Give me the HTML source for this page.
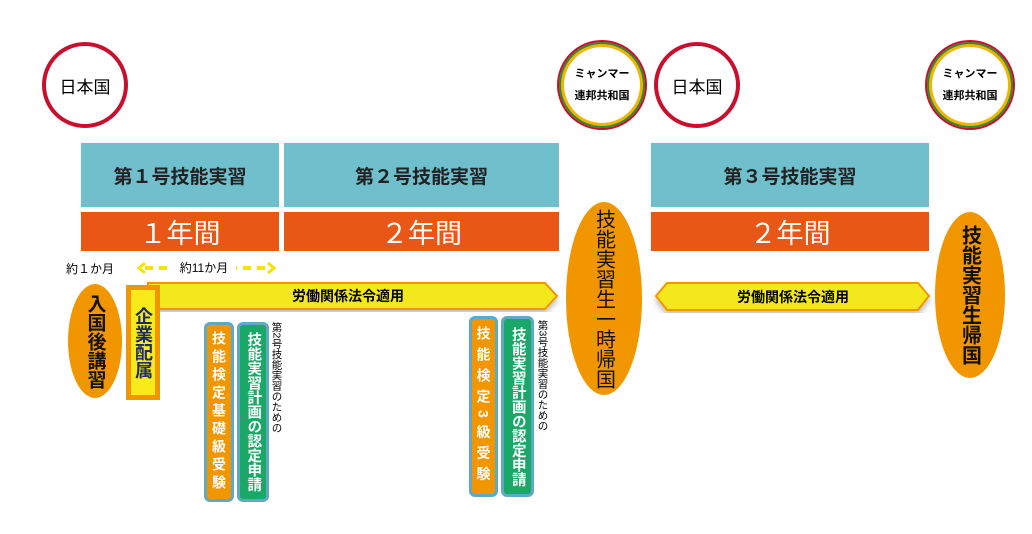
<!DOCTYPE html>
<html><head><meta charset="utf-8"><style>
body{margin:0;width:1032px;height:534px;background:#fff;position:relative;overflow:hidden;font-family:"Liberation Sans","Noto Sans CJK JP",sans-serif}
div{position:absolute;box-sizing:border-box}
.c{border-radius:50%;display:flex;align-items:center;justify-content:center;text-align:center;background:#fff}
.t{background:#70bfcc;display:flex;align-items:center;justify-content:center;font-weight:bold;font-size:19px;color:#222}
.o{background:#e85716;display:flex;align-items:center;justify-content:center;color:#fff;font-size:27px}
.v{writing-mode:vertical-rl;display:flex;align-items:center;justify-content:center;white-space:nowrap}
.e{border-radius:50%;background:#f29600;font-weight:bold;color:#111}
.p{border-radius:6px;border:3px solid #5fa9c4;color:#fff;font-weight:bold;line-height:1}
</style></head><body>
<div class="c" style="left:42px;top:42px;width:86px;height:86px;border:4px solid #c8102e;font-size:17px">日本国</div>
<div class="c" style="left:557px;top:40px;width:90px;height:90px;border:2px solid #c8102e;box-shadow:inset 0 0 0 2px #2a8a3a,inset 0 0 0 5px #f2b400;font-size:11px;font-weight:bold;line-height:2">ミャンマー<br>連邦共和国</div>
<div class="c" style="left:654px;top:42px;width:86px;height:86px;border:4px solid #c8102e;font-size:17px">日本国</div>
<div class="c" style="left:925px;top:40px;width:90px;height:90px;border:2px solid #c8102e;box-shadow:inset 0 0 0 2px #2a8a3a,inset 0 0 0 5px #f2b400;font-size:11px;font-weight:bold;line-height:2">ミャンマー<br>連邦共和国</div>

<div class="t" style="left:81px;top:143px;width:198px;height:64px">第１号技能実習</div>
<div class="t" style="left:284px;top:143px;width:275px;height:64px">第２号技能実習</div>
<div class="t" style="left:651px;top:143px;width:278px;height:64px">第３号技能実習</div>
<div class="o" style="left:81px;top:212px;width:198px;height:39px">１年間</div>
<div class="o" style="left:284px;top:212px;width:275px;height:39px">２年間</div>
<div class="o" style="left:651px;top:212px;width:278px;height:39px">２年間</div>

<div style="left:66px;top:260px;font-size:12px">約１か月</div>
<svg style="position:absolute;left:0;top:0" width="1032" height="534">
<defs><filter id="s"><feDropShadow dx="0" dy="4" stdDeviation="3" flood-color="#000" flood-opacity="0.25"/></filter></defs>
<line x1="145" y1="268" x2="268" y2="268" stroke="#f5e400" stroke-width="4" stroke-dasharray="8,6"/>
<polyline points="145,263 139,268 145,273" fill="none" stroke="#f5e400" stroke-width="3"/>
<polyline points="268,263 274,268 268,273" fill="none" stroke="#f5e400" stroke-width="3"/>
<polygon points="148,283 545,283 557,296 545,309 148,309" fill="#f2e81a" stroke="#f29600" stroke-width="2" filter="url(#s)"/>
<polygon points="667,283 918,283 929,296 918,310 667,310 656,296" fill="#f2e81a" stroke="#f29600" stroke-width="2" filter="url(#s)"/>
</svg>
<div style="left:172px;top:259px;width:64px;font-size:12px;text-align:center;background:#fff">約11か月</div>
<div style="left:148px;top:286px;width:400px;text-align:center;font-size:14px;font-weight:bold">労働関係法令適用</div>
<div style="left:660px;top:287px;width:266px;text-align:center;font-size:14px;font-weight:bold">労働関係法令適用</div>

<div class="e v" style="left:68px;top:284px;width:54px;height:114px;font-size:19px">入国後講習</div>
<div class="v" style="left:126px;top:285px;width:34px;height:115px;background:#f7ec1a;border:5px solid #f29600;font-size:18px;font-weight:bold;color:#1d2a6e">企業配属</div>

<div class="p v" style="left:204px;top:322px;width:30px;height:180px;background:#f29600;font-size:14px;letter-spacing:4px">技能検定基礎級受験</div>
<div class="p v" style="left:237px;top:322px;width:32px;height:180px;background:#1aa868;font-size:14.5px">技能実習計画の認定申請</div>
<div class="v" style="left:270px;top:322px;width:14px;height:120px;font-size:10.5px;justify-content:flex-start">第2号技能実習のための</div>

<div class="p v" style="left:469px;top:316px;width:29px;height:181px;background:#f29600;font-size:14px;letter-spacing:7px">技能検定3級受験</div>
<div class="p v" style="left:501px;top:316px;width:33px;height:181px;background:#1aa868;font-size:14.5px">技能実習計画の認定申請</div>
<div class="v" style="left:536px;top:320px;width:14px;height:120px;font-size:10.5px;justify-content:flex-start">第3号技能実習のための</div>

<div class="e v" style="left:566px;top:202px;width:76px;height:193px;font-size:20px;font-weight:normal">技能実習生一時帰国</div>
<div class="e v" style="left:935px;top:212px;width:70px;height:166px;font-size:20px">技能実習生帰国</div>
</body></html>
